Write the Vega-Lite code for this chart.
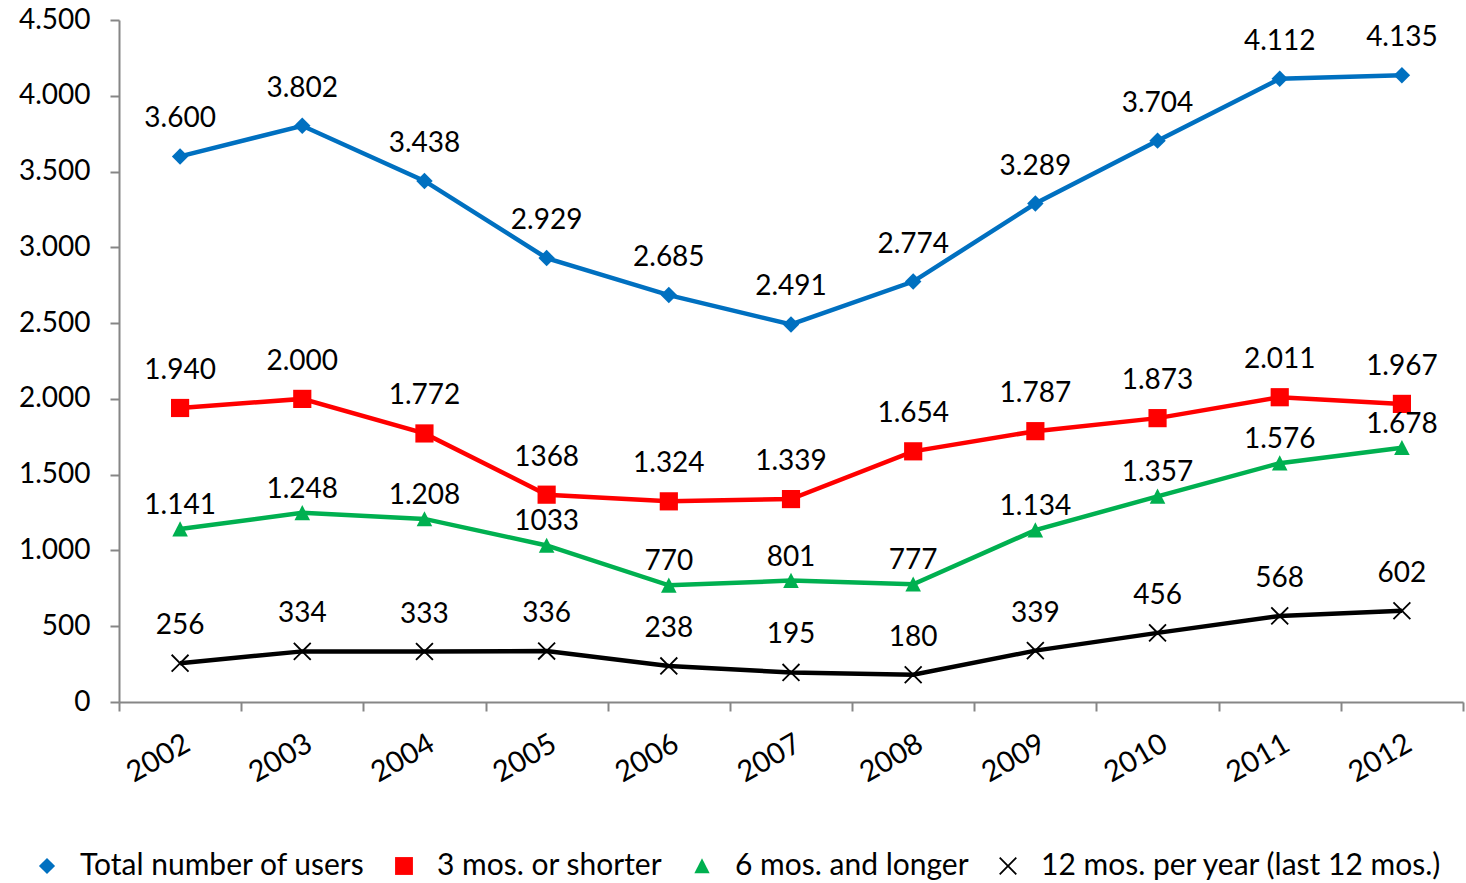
{
  "$schema": "https://vega.github.io/schema/vega-lite/v6.json",
  "width": 1344,
  "height": 682,
  "autosize": "none",
  "padding": {"left": 119, "top": 20, "right": 3, "bottom": 181},
  "config": {"view": {"stroke": null}, "font": "Lato", "text": {"font": "Lato"}},
  "data": {"values": [
    {"year": "2002", "series": "Total number of users", "value": 3600, "label": "3.600"},
    {"year": "2003", "series": "Total number of users", "value": 3802, "label": "3.802"},
    {"year": "2004", "series": "Total number of users", "value": 3438, "label": "3.438"},
    {"year": "2005", "series": "Total number of users", "value": 2929, "label": "2.929"},
    {"year": "2006", "series": "Total number of users", "value": 2685, "label": "2.685"},
    {"year": "2007", "series": "Total number of users", "value": 2491, "label": "2.491"},
    {"year": "2008", "series": "Total number of users", "value": 2774, "label": "2.774"},
    {"year": "2009", "series": "Total number of users", "value": 3289, "label": "3.289"},
    {"year": "2010", "series": "Total number of users", "value": 3704, "label": "3.704"},
    {"year": "2011", "series": "Total number of users", "value": 4112, "label": "4.112"},
    {"year": "2012", "series": "Total number of users", "value": 4135, "label": "4.135"},
    {"year": "2002", "series": "3 mos. or shorter", "value": 1940, "label": "1.940"},
    {"year": "2003", "series": "3 mos. or shorter", "value": 2000, "label": "2.000"},
    {"year": "2004", "series": "3 mos. or shorter", "value": 1772, "label": "1.772"},
    {"year": "2005", "series": "3 mos. or shorter", "value": 1368, "label": "1368"},
    {"year": "2006", "series": "3 mos. or shorter", "value": 1324, "label": "1.324"},
    {"year": "2007", "series": "3 mos. or shorter", "value": 1339, "label": "1.339"},
    {"year": "2008", "series": "3 mos. or shorter", "value": 1654, "label": "1.654"},
    {"year": "2009", "series": "3 mos. or shorter", "value": 1787, "label": "1.787"},
    {"year": "2010", "series": "3 mos. or shorter", "value": 1873, "label": "1.873"},
    {"year": "2011", "series": "3 mos. or shorter", "value": 2011, "label": "2.011"},
    {"year": "2012", "series": "3 mos. or shorter", "value": 1967, "label": "1.967"},
    {"year": "2002", "series": "6 mos. and longer", "value": 1141, "label": "1.141"},
    {"year": "2003", "series": "6 mos. and longer", "value": 1248, "label": "1.248"},
    {"year": "2004", "series": "6 mos. and longer", "value": 1208, "label": "1.208"},
    {"year": "2005", "series": "6 mos. and longer", "value": 1033, "label": "1033"},
    {"year": "2006", "series": "6 mos. and longer", "value": 770, "label": "770"},
    {"year": "2007", "series": "6 mos. and longer", "value": 801, "label": "801"},
    {"year": "2008", "series": "6 mos. and longer", "value": 777, "label": "777"},
    {"year": "2009", "series": "6 mos. and longer", "value": 1134, "label": "1.134"},
    {"year": "2010", "series": "6 mos. and longer", "value": 1357, "label": "1.357"},
    {"year": "2011", "series": "6 mos. and longer", "value": 1576, "label": "1.576"},
    {"year": "2012", "series": "6 mos. and longer", "value": 1678, "label": "1.678"},
    {"year": "2002", "series": "12 mos. per year (last 12 mos.)", "value": 256, "label": "256"},
    {"year": "2003", "series": "12 mos. per year (last 12 mos.)", "value": 334, "label": "334"},
    {"year": "2004", "series": "12 mos. per year (last 12 mos.)", "value": 333, "label": "333"},
    {"year": "2005", "series": "12 mos. per year (last 12 mos.)", "value": 336, "label": "336"},
    {"year": "2006", "series": "12 mos. per year (last 12 mos.)", "value": 238, "label": "238"},
    {"year": "2007", "series": "12 mos. per year (last 12 mos.)", "value": 195, "label": "195"},
    {"year": "2008", "series": "12 mos. per year (last 12 mos.)", "value": 180, "label": "180"},
    {"year": "2009", "series": "12 mos. per year (last 12 mos.)", "value": 339, "label": "339"},
    {"year": "2010", "series": "12 mos. per year (last 12 mos.)", "value": 456, "label": "456"},
    {"year": "2011", "series": "12 mos. per year (last 12 mos.)", "value": 568, "label": "568"},
    {"year": "2012", "series": "12 mos. per year (last 12 mos.)", "value": 602, "label": "602"}
  ]},
  "encoding": {
    "x": {
      "field": "year", "type": "ordinal", "bandPosition": 0.5,
      "scale": {"type": "band", "paddingInner": 0, "paddingOuter": 0},
      "axis": {
        "title": null, "tickBand": "extent", "domainColor": "#868686", "domainWidth": 2,
        "tickColor": "#868686", "tickWidth": 2, "tickSize": 9,
        "labelAngle": -30, "labelFontSize": 29, "labelFont": "Lato", "labelColor": "#000000",
        "labelPadding": 18, "labelAlign": "right", "labelBaseline": "top"
      }
    },
    "y": {
      "field": "value", "type": "quantitative",
      "scale": {"domain": [0, 4500], "nice": false},
      "axis": {
        "title": null, "grid": false, "values": [0, 500, 1000, 1500, 2000, 2500, 3000, 3500, 4000, 4500],
        "labelExpr": "replace(format(datum.value, ','), ',', '.')",
        "domainColor": "#868686", "domainWidth": 2, "tickColor": "#868686", "tickWidth": 2, "tickSize": 9,
        "labelFontSize": 28, "labelFont": "Lato", "labelColor": "#000000", "labelPadding": 20
      }
    }
  },
  "layer": [
    {
      "mark": {"type": "line", "strokeWidth": 4.5},
      "encoding": {
        "stroke": {
          "field": "series", "type": "nominal",
          "scale": {"range": ["#000000", "#FF0000", "#00B050", "#0070C0"]},
          "legend": null
        }
      }
    },
    {
      "mark": {"type": "point", "filled": true, "opacity": 1, "size": 300, "strokeWidth": 0},
      "encoding": {
        "color": {
          "field": "series", "type": "nominal",
          "scale": {"domain": ["Total number of users", "3 mos. or shorter", "6 mos. and longer", "12 mos. per year (last 12 mos.)"], "range": ["#0070C0", "#FF0000", "#00B050", "#000000"]},
          "legend": {
            "title": null, "orient": "none", "legendX": -101, "legendY": 831,
            "direction": "horizontal", "columns": 4, "columnPadding": 10,
            "symbolSize": 289, "symbolStrokeWidth": 0, "symbolOffset": 14, "labelOffset": 18,
            "labelFontSize": 30, "labelFont": "Lato", "labelColor": "#000000", "labelLimit": 0
          }
        },
        "shape": {
          "field": "series", "type": "nominal",
          "scale": {"domain": ["Total number of users", "3 mos. or shorter", "6 mos. and longer", "12 mos. per year (last 12 mos.)"], "range": ["M0,-0.95L0.95,0L0,0.95L-0.95,0Z", "M-1.05,-1.05H1.05V1.05H-1.05Z", "M0,-0.9L0.9,0.85H-0.9Z", "M-1.05,-0.9L-0.9,-1.05L0,-0.15L0.9,-1.05L1.05,-0.9L0.15,0L1.05,0.9L0.9,1.05L0,0.15L-0.9,1.05L-1.05,0.9L-0.15,0Z"]}
        }
      }
    },
    {
      "transform": [{"filter": "datum.series !== '6 mos. and longer'"}],
      "mark": {"type": "text", "dy": -37, "fontSize": 28, "font": "Lato", "color": "#000000", "baseline": "middle"},
      "encoding": {"text": {"field": "label"}}
    },
    {
      "transform": [{"filter": "datum.series === '6 mos. and longer'"}],
      "mark": {"type": "text", "dy": -23, "fontSize": 28, "font": "Lato", "color": "#000000", "baseline": "middle"},
      "encoding": {"text": {"field": "label"}}
    }
  ]
}
